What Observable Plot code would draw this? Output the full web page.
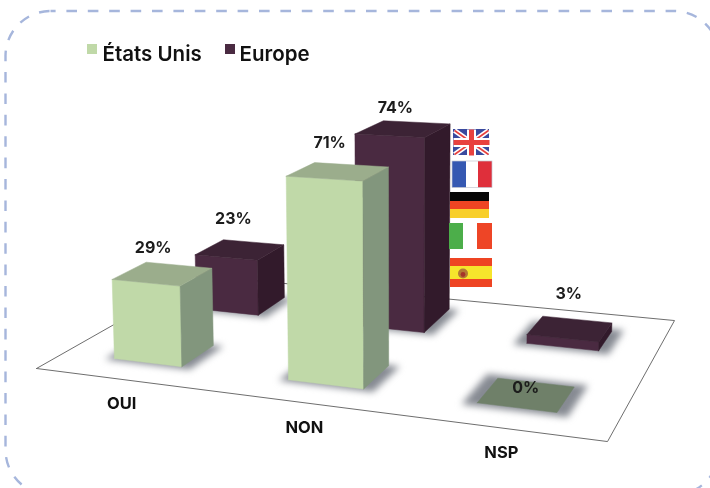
<!DOCTYPE html>
<html>
<head>
<meta charset="utf-8">
<script src="https://cdn.jsdelivr.net/npm/d3@7"></script>
<script src="https://cdn.jsdelivr.net/npm/@observablehq/plot@0.6"></script>
<style>
html,body{margin:0;padding:0;background:#fff}
svg{display:block;filter:blur(.35px)}
.shadow{filter:blur(3.5px)}
</style>
</head>
<body>
<div id="chart"></div>
<script>
// ---------- data ----------
const categories = ["OUI", "NON", "NSP"];
const seriesNames = ["États Unis", "Europe"];
const etatsUnis = [29, 71, 0];
const europe = [23, 74, 3];

// ---------- styles ----------
const palette = {
  "États Unis": {front: "#c0d9a8", top: "#9bad8c", side: "#82967d", flat: "#6f8069"},
  "Europe": {front: "#4a2a41", top: "#3c2335", side: "#321a2b", flat: "#3c2335"}
};
const FONT = "Inter, 'DejaVu Sans', sans-serif";

// ---------- perspective of the floor: (u,v) in the unit square -> picture ----------
const H = {a: 481.5, b: 209.1, c: 36, d: 8, e: -31, f: 368, g: -0.1475, h: 0.2255};
const W = (u, v) => H.g * u + H.h * v + 1;
const floorX = (u, v) => (H.a * u + H.b * v + H.c) / W(u, v);
const floorY = (u, v) => (H.d * u + H.e * v + H.f) / W(u, v);

// value -> elevation at unit depth
const elevation = d3.scaleLinear().domain([0, 3, 23, 29, 71, 74]).range([0, 9, 61, 80.5, 197, 207]);

function pt(u, v, value) {
  const z = elevation(value) / W(u, v);
  const x = floorX(u, v);
  return {x: x + (x - 400) * 0.0001 * z, y: floorY(u, v) - z};
}

// floor bands
const uBands = {OUI: [0.103, 0.238], NON: [0.441, 0.577], NSP: [0.772, 0.902]};
const vBands = {
  "États Unis": {OUI: [0.145, 0.34], NON: [0.145, 0.34], NSP: [0.145, 0.34]},
  "Europe": {OUI: [0.65, 0.85], NON: [0.65, 0.896], NSP: [0.65, 0.836]}
};
const shadowSpread = {OUI: 0.014, NON: 0.014, NSP: 0.022};

const values = {"États Unis": etatsUnis, "Europe": europe};
const bars = [];
for (const s of ["Europe", "États Unis"]) {
  categories.forEach((c, i) => bars.push({series: s, category: c, value: values[s][i]}));
}

const faces = [];
const shadows = [];
bars.forEach((b, i) => {
  const [u0, u1] = uBands[b.category];
  const [v0, v1] = vBands[b.series][b.category];
  const col = palette[b.series];
  const poly = (name, fill, pts) => pts.concat(pts[0]).forEach(p => faces.push({...p, id: i + name, fill}));
  const m = shadowSpread[b.category];
  const flat = b.category === "NSP";
  const back = flat ? m : m * 0.2;
  const right = flat ? m * 0.9 : m * 1.4;
  [[u0 - m, v0 - m], [u1 + right, v0 - m], [u1 + right, v1 + back], [u0 - m, v1 + back], [u0 - m, v0 - m]]
    .forEach(([u, v]) => shadows.push({x: floorX(u, v), y: floorY(u, v), id: i}));
  if (b.value > 0) {
    poly("f", col.front, [pt(u0, v0, 0), pt(u1, v0, 0), pt(u1, v0, b.value), pt(u0, v0, b.value)]);
    poly("s", col.side, [pt(u1, v0, 0), pt(u1, v1, 0), pt(u1, v1, b.value), pt(u1, v0, b.value)]);
    poly("t", col.top, [pt(u0, v0, b.value), pt(u1, v0, b.value), pt(u1, v1, b.value), pt(u0, v1, b.value)]);
  } else {
    poly("t", col.flat, [pt(u0, v0, 0), pt(u1, v0, 0), pt(u1, v1, 0), pt(u0, v1, 0)]);
  }
});

const floorLine = [[0, 0], [1, 0], [1, 1], [0, 1], [0, 0]].map(([u, v]) => ({x: floorX(u, v), y: floorY(u, v)}));

// value labels: anchored on the bar's top rear-left corner, with a nudge
const nudges = {
  "Europe|OUI": [10, -21], "Europe|NON": [12, -13], "Europe|NSP": [26, -22],
  "États Unis|OUI": [7, -14], "États Unis|NON": [15, -20], "États Unis|NSP": [28, 10]
};
const valueLabels = bars.map(b => {
  const p = pt(uBands[b.category][0], vBands[b.series][b.category][1], b.value);
  const [dx, dy] = nudges[b.series + "|" + b.category];
  return {x: p.x + dx, y: p.y + dy, text: b.value + "%"};
});

const categoryLabels = categories.map(c => {
  const u = (uBands[c][0] + uBands[c][1]) / 2;
  return {x: floorX(u, 0), y: floorY(u, 0) + 24.5, text: c};
});

// ---------- decoration layout ----------
const frameBox = [{x1: 5.5, x2: 719, y1: 11, y2: 495}];
const legendBoxes = [
  {x1: 87, x2: 97, y1: 44, y2: 54, fill: palette["États Unis"].front},
  {x1: 225, x2: 235, y1: 44, y2: 54, fill: palette["Europe"].front}
];
const legendTexts = [{x: 102, y: 54, text: seriesNames[0]}, {x: 239, y: 54, text: seriesNames[1]}];

const flagStripes = [
  // France
  {x1: 452, x2: 466, y1: 161, y2: 187.5, fill: "#3558b2"},
  {x1: 478, x2: 492, y1: 161, y2: 187.5, fill: "#df2f3b"},
  // Germany
  {x1: 450, x2: 489, y1: 192, y2: 201, fill: "#060606"},
  {x1: 450, x2: 489, y1: 201, y2: 209, fill: "#ee4423"},
  {x1: 450, x2: 489, y1: 209, y2: 218, fill: "#f8cf2a"},
  // Italy
  {x1: 449, x2: 463, y1: 223, y2: 249, fill: "#4cae4a"},
  {x1: 477, x2: 492, y1: 223, y2: 249, fill: "#ee4526"},
  // Spain
  {x1: 450, x2: 492, y1: 258, y2: 266, fill: "#ee4423"},
  {x1: 450, x2: 492, y1: 266, y2: 279, fill: "#f6e52c"},
  {x1: 450, x2: 492, y1: 279, y2: 287, fill: "#ee4423"},
  // Union flag field
  {x1: 453, x2: 489, y1: 129, y2: 155, fill: "#3a4a9e"}
];
const crest = [
  {x: 462.5, y: 273, r: 5, fill: "#b37a34"},
  {x: 462.5, y: 274, r: 2.4, fill: "#a5342a"}
];
const frenchOutline = [{x1: 452, x2: 492, y1: 161, y2: 187.5}];
const unionLinks = [
  {x1: 454, y1: 130, x2: 488, y2: 154, stroke: "#ffffff", w: 5},
  {x1: 454, y1: 154, x2: 488, y2: 130, stroke: "#ffffff", w: 5},
  {x1: 454, y1: 130, x2: 488, y2: 154, stroke: "#e8413e", w: 1.6},
  {x1: 454, y1: 154, x2: 488, y2: 130, stroke: "#e8413e", w: 1.6},
  {x1: 471, y1: 129, x2: 471, y2: 155, stroke: "#ffffff", w: 9},
  {x1: 453, y1: 142, x2: 489, y2: 142, stroke: "#ffffff", w: 9},
  {x1: 471, y1: 129, x2: 471, y2: 155, stroke: "#e8413e", w: 5},
  {x1: 453, y1: 142, x2: 489, y2: 142, stroke: "#e8413e", w: 5}
];

const plot = Plot.plot({
  width: 710,
  height: 488,
  margin: 0,
  x: {domain: [0, 710], range: [0, 710], axis: null},
  y: {domain: [0, 488], range: [0, 488], axis: null},
  color: {type: "identity"},
  r: {type: "identity"},
  style: {background: "#fff"},
  marks: [
    Plot.rect(frameBox, {x1: "x1", x2: "x2", y1: "y1", y2: "y2", rx: 45, fill: "none", stroke: "#a6b6dc", strokeWidth: 2.4, strokeDasharray: "10.6 10.8", strokeDashoffset: 5.5}),
    Plot.line(floorLine, {x: "x", y: "y", stroke: "#6e6e6e", strokeWidth: 1}),
    Plot.line(shadows, {x: "x", y: "y", z: "id", fill: "#868a92", stroke: "none", className: "shadow"}),
    Plot.line(faces, {x: "x", y: "y", z: "id", fill: "fill", stroke: "fill", strokeWidth: 0.5}),
    Plot.rect(flagStripes, {x1: "x1", x2: "x2", y1: "y1", y2: "y2", fill: "fill"}),
    Plot.rect(frenchOutline, {x1: "x1", x2: "x2", y1: "y1", y2: "y2", fill: "none", stroke: "#c4c6d0", strokeWidth: 0.7}),
    Plot.dot(crest, {x: "x", y: "y", r: "r", fill: "fill"}),
    Plot.link(unionLinks, {x1: "x1", y1: "y1", x2: "x2", y2: "y2", stroke: "stroke", strokeWidth: "w"}),
    Plot.rect(legendBoxes, {x1: "x1", x2: "x2", y1: "y1", y2: "y2", fill: "fill"}),
    Plot.text(legendTexts, {x: "x", y: "y", text: "text", textAnchor: "start", fontFamily: FONT, fontWeight: 600, fontSize: 20.5, fill: "#111"}),
    Plot.text(valueLabels, {x: "x", y: "y", text: "text", fontFamily: FONT, fontWeight: 700, fontSize: 16, fill: "#1c1c1c"}),
    Plot.text(categoryLabels, {x: "x", y: "y", text: "text", fontFamily: FONT, fontWeight: 700, fontSize: 16.5, fill: "#111"})
  ]
});
document.getElementById("chart").append(plot);
</script>
</body>
</html>
